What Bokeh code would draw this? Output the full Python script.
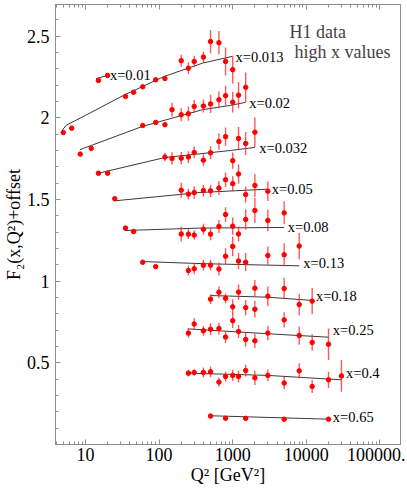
from bokeh.plotting import figure
from bokeh.models import FixedTicker, LogAxis, Label, Range1d
from bokeh.embed import file_html
from bokeh.resources import INLINE
from bokeh.core.properties import value

# ---------------- data (Q^2 in GeV^2, F2 + offset) ----------------
q_001 = [15, 20]
f_001 = [2.229, 2.26]
e_001 = [0.008, 0.008]
cq_001 = [14, 20]
cf_001 = [2.24, 2.26]

q_0013 = [5, 6.5, 35, 45, 60, 90, 120, 200, 250, 300, 400, 500, 650, 800, 1000]
f_0013 = [1.91, 1.937, 2.131, 2.157, 2.19, 2.233, 2.241, 2.35, 2.304, 2.345, 2.372, 2.467, 2.46, 2.345, 2.295]
e_0013 = [0.008, 0.008, 0.008, 0.008, 0.008, 0.01, 0.012, 0.037, 0.036, 0.035, 0.033, 0.071, 0.071, 0.085, 0.085]
cq_0013 = [4.85, 5.5, 10, 34, 117, 389, 980]
cf_0013 = [1.925, 1.955, 2.015, 2.141, 2.253, 2.335, 2.376]

q_002 = [8.5, 12, 60, 90, 120, 150, 200, 250, 300, 400, 500, 650, 800, 1000, 1200, 1500]
f_002 = [1.778, 1.813, 1.953, 1.972, 1.958, 2.05, 2.019, 2.025, 2.07, 2.072, 2.085, 2.111, 2.136, 2.096, 2.139, 2.187]
e_002 = [0.008, 0.008, 0.008, 0.01, 0.012, 0.043, 0.04, 0.043, 0.04, 0.04, 0.056, 0.05, 0.06, 0.063, 0.08, 0.09]
cq_002 = [8.4, 59, 389, 925, 1500]
cf_002 = [1.805, 1.947, 2.05, 2.076, 2.095]

q_0032 = [15, 20, 120, 150, 200, 250, 300, 400, 500, 650, 800, 1000, 1200, 1500, 2000]
f_0032 = [1.661, 1.661, 1.76, 1.751, 1.753, 1.76, 1.788, 1.741, 1.786, 1.855, 1.885, 1.738, 1.874, 1.843, 1.912]
e_0032 = [0.008, 0.008, 0.025, 0.038, 0.038, 0.036, 0.036, 0.036, 0.04, 0.05, 0.056, 0.05, 0.07, 0.07, 0.09]
cq_0032 = [15, 120, 925, 2000]
cf_0032 = [1.661, 1.757, 1.80, 1.819]

q_005 = [25, 200, 250, 300, 400, 500, 650, 800, 1000, 1200, 1500, 2000, 3000]
f_005 = [1.505, 1.557, 1.533, 1.543, 1.555, 1.553, 1.57, 1.621, 1.597, 1.656, 1.53, 1.586, 1.551]
e_005 = [0.008, 0.046, 0.033, 0.038, 0.036, 0.038, 0.043, 0.045, 0.046, 0.06, 0.05, 0.07, 0.06]
cq_005 = [25, 360, 2900]
cf_005 = [1.492, 1.543, 1.563]

q_008 = [35, 45, 200, 250, 300, 400, 500, 650, 800, 1000, 1200, 1500, 2000, 3000, 5000]
f_008 = [1.325, 1.304, 1.289, 1.288, 1.282, 1.318, 1.288, 1.335, 1.408, 1.337, 1.289, 1.378, 1.433, 1.372, 1.418]
e_008 = [0.008, 0.008, 0.046, 0.03, 0.028, 0.034, 0.038, 0.04, 0.045, 0.053, 0.046, 0.063, 0.077, 0.066, 0.07]
cq_008 = [34, 360, 5000]
cf_008 = [1.31, 1.325, 1.329]

q_013 = [60, 90, 250, 300, 400, 500, 650, 800, 1000, 1200, 1500, 3000, 5000, 8000]
f_013 = [1.116, 1.089, 1.065, 1.076, 1.098, 1.098, 1.074, 1.153, 1.213, 1.123, 1.116, 1.157, 1.162, 1.215]
e_013 = [0.008, 0.008, 0.029, 0.033, 0.033, 0.033, 0.04, 0.048, 0.06, 0.05, 0.056, 0.056, 0.07, 0.08]
cq_013 = [60, 400, 8000]
cf_013 = [1.12, 1.107, 1.094]

q_018 = [500, 650, 800, 1000, 1200, 1500, 2000, 2000, 3000, 5000, 8000, 12000]
f_018 = [0.89, 0.932, 0.895, 0.843, 0.933, 0.838, 0.957, 0.828, 0.908, 0.955, 0.857, 0.878]
e_018 = [0.03, 0.036, 0.03, 0.046, 0.046, 0.046, 0.05, 0.05, 0.06, 0.066, 0.066, 0.08]
cq_018 = [500, 3000, 12000]
cf_018 = [0.912, 0.902, 0.882]

q_025 = [250, 300, 400, 500, 650, 800, 1000, 1200, 1500, 2000, 3000, 5000, 8000, 12000, 20000]
f_025 = [0.682, 0.738, 0.696, 0.706, 0.71, 0.658, 0.758, 0.692, 0.643, 0.635, 0.682, 0.763, 0.667, 0.625, 0.614]
e_025 = [0.028, 0.036, 0.03, 0.036, 0.036, 0.036, 0.044, 0.04, 0.043, 0.044, 0.043, 0.046, 0.056, 0.05, 0.097]
cq_025 = [245, 3000, 20000]
cf_025 = [0.708, 0.678, 0.657]

q_04 = [250, 300, 400, 500, 650, 800, 1000, 1200, 1500, 2000, 3000, 5000, 8000, 12000, 20000, 30000]
f_04 = [0.437, 0.441, 0.441, 0.445, 0.382, 0.416, 0.423, 0.416, 0.453, 0.408, 0.423, 0.376, 0.451, 0.355, 0.396, 0.42]
e_04 = [0.02, 0.02, 0.03, 0.033, 0.028, 0.03, 0.034, 0.036, 0.036, 0.043, 0.036, 0.037, 0.046, 0.04, 0.05, 0.097]
cq_04 = [245, 3000, 30000]
cf_04 = [0.437, 0.423, 0.396]

q_065 = [500, 800, 1500, 5000, 20000]
f_065 = [0.174, 0.161, 0.16, 0.155, 0.155]
e_065 = [0.005, 0.005, 0.005, 0.005, 0.005]
cq_065 = [500, 20000]
cf_065 = [0.176, 0.155]

bin_labels = ["x=0.01", "x=0.013", "x=0.02", "x=0.032", "x=0.05", "x=0.08",
              "x=0.13", "x=0.18", "x=0.25", "x=0.4", "x=0.65"]
label_q = [21.5, 1090, 1680, 2290, 3400, 5600, 9100, 13500, 22900, 34600, 22900]
label_f = [2.262, 2.374, 2.09, 1.815, 1.563, 1.329, 1.114, 0.91, 0.702, 0.437, 0.171]

x_major = [10, 100, 1000, 10000, 100000]
x_major_text = ["10", "100", "1000", "10000", "100000."]
y_major = [0.5, 1, 1.5, 2, 2.5]
y_major_text = ["0.5", "1", "1.5", "2", "2.5"]

bins = [
    (q_001, f_001, e_001, cq_001, cf_001),
    (q_0013, f_0013, e_0013, cq_0013, cf_0013),
    (q_002, f_002, e_002, cq_002, cf_002),
    (q_0032, f_0032, e_0032, cq_0032, cf_0032),
    (q_005, f_005, e_005, cq_005, cf_005),
    (q_008, f_008, e_008, cq_008, cf_008),
    (q_013, f_013, e_013, cq_013, cf_013),
    (q_018, f_018, e_018, cq_018, cf_018),
    (q_025, f_025, e_025, cq_025, cf_025),
    (q_04, f_04, e_04, cq_04, cf_04),
    (q_065, f_065, e_065, cq_065, cf_065),
]

# ---------------- figure ----------------
FONT = "'Liberation Serif'"
FRAME = "#8f8f8f"

p = figure(x_axis_type="log", frame_width=345, frame_height=440,
           x_range=Range1d(3.92, 1.9e5), y_range=Range1d(0, 2.694),
           output_backend="svg", toolbar_location=None,
           min_border_left=47, min_border_right=5, min_border_top=0, min_border_bottom=36,
           background_fill_color="white", border_fill_color="white")
p.grid.visible = False
p.outline_line_color = FRAME
p.outline_line_width = 1

minor_x = [m * 10 ** k for k in range(0, 6) for m in range(2, 10)]
minor_y = [i / 10 for i in range(1, 28)]

xa = p.xaxis[0]
xa.ticker = FixedTicker(ticks=x_major, minor_ticks=minor_x)
xa.major_label_overrides = dict(zip(x_major, x_major_text))
ya = p.yaxis[0]
ya.ticker = FixedTicker(ticks=y_major, minor_ticks=minor_y)
ya.major_label_overrides = dict(zip(y_major, y_major_text))

for ax in (xa, ya):
    ax.axis_line_color = FRAME
    ax.major_tick_line_color = FRAME
    ax.minor_tick_line_color = FRAME
    ax.major_tick_in = 5
    ax.major_tick_out = 0
    ax.minor_tick_in = 3
    ax.minor_tick_out = 0
    ax.major_label_text_font = FONT
    ax.major_label_text_font_size = "18px"
    ax.major_label_text_color = "black"
    ax.axis_label_text_font = FONT
    ax.axis_label_text_font_size = "18px"
    ax.axis_label_text_font_style = "normal"
    ax.axis_label_text_color = "black"

xa.axis_label = "Q² [GeV²]"
xa.major_label_standoff = 3
xa.axis_label_standoff = 1
ya.axis_label = "F₂(x,Q²)+offset"
ya.major_label_standoff = 6
ya.axis_label_standoff = 0

top = LogAxis(ticker=FixedTicker(ticks=x_major, minor_ticks=minor_x),
              major_label_overrides={t: " " for t in x_major},
              major_label_text_font_size="1px", major_label_standoff=0,
              axis_line_color=FRAME, major_tick_line_color=FRAME, minor_tick_line_color=FRAME,
              major_tick_in=5, major_tick_out=0, minor_tick_in=3, minor_tick_out=0)
p.add_layout(top, "above")

for (q, f, e, cq, cf) in bins:
    p.line(cq, cf, line_color="#3a3a3a", line_width=1)
    lo = [a - b for a, b in zip(f, e)]
    hi = [a + b for a, b in zip(f, e)]
    p.segment(x0=q, y0=lo, x1=q, y1=hi, line_color="#ff2020", line_alpha=0.75, line_width=1.4)
    p.scatter(q, f, size=4.5, fill_color="red", line_color="red")

p.text(x=label_q, y=label_f, text=bin_labels, text_font=value(FONT),
       text_font_size="14.5px", text_baseline="middle", text_align="left", text_color="black")

p.add_layout(Label(x=234, y=413, x_units="screen", y_units="screen", text="H1 data",
                   text_font=FONT, text_font_size="18px", text_baseline="alphabetic"))
p.add_layout(Label(x=239, y=393, x_units="screen", y_units="screen", text="high x values",
                   text_font=FONT, text_font_size="18px", text_baseline="alphabetic"))

open("out.html", "w").write(file_html(p, INLINE))
